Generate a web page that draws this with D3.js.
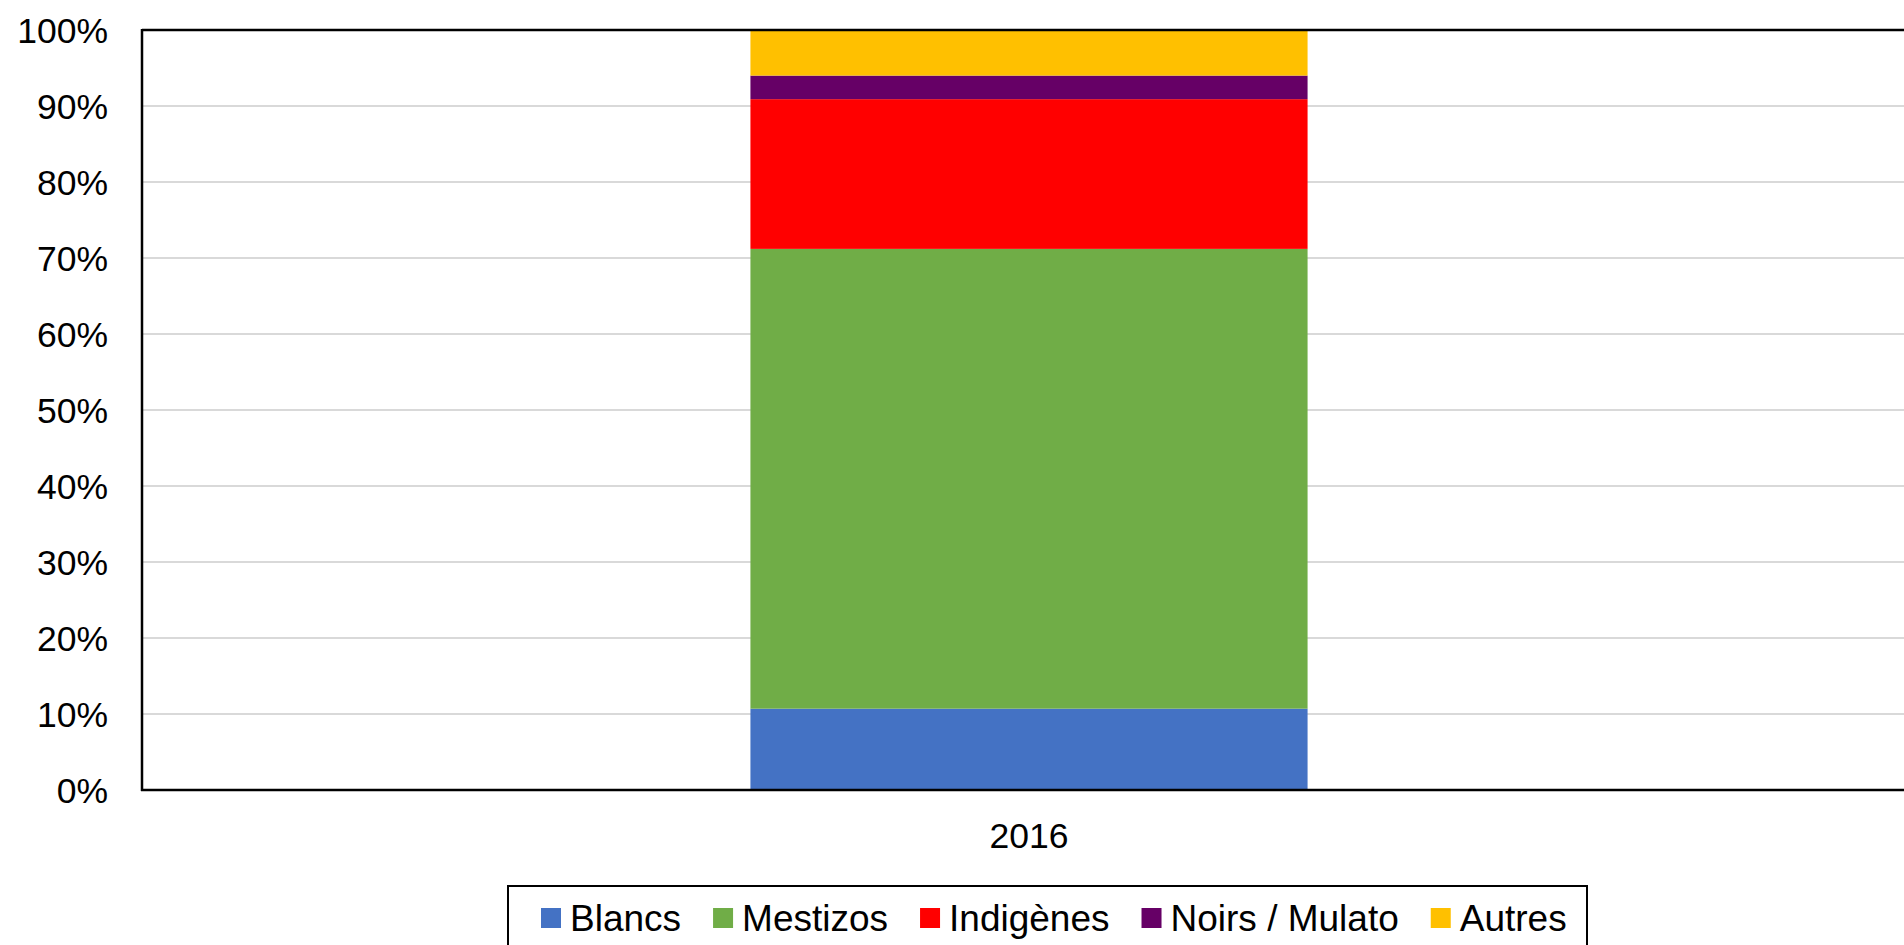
<!DOCTYPE html>
<html>
<head>
<meta charset="utf-8">
<script src="https://d3js.org/d3.v7.min.js"></script>
<style>
  body { margin: 0; background: #fff; }
  svg { display: block; font-family: "Liberation Sans", Arial, sans-serif; }
</style>
</head>
<body>
<div id="chart"></div>
<script>
// data (percent of population, 2016)
var years = ["2016"];
var groups = ["Blancs", "Mestizos", "Indigènes", "Noirs / Mulato", "Autres"];
var shares = [10.7, 60.5, 19.7, 3.1, 6.0];
var colors = ["#4472C4", "#70AD47", "#FF0000", "#660066", "#FFC000"];
var yTicks = [0, 10, 20, 30, 40, 50, 60, 70, 80, 90, 100];

var W = 1904, H = 945;
var margin = {top: 30, left: 142, bottom: 155};
var plotRight = 1916; // plot area runs past the right edge of the picture
var height = H - margin.top - margin.bottom;

var svg = d3.select("#chart").append("svg")
  .attr("width", W).attr("height", H);

var x = d3.scaleBand().domain(years).range([margin.left, plotRight]).padding(0.522);
var y = d3.scaleLinear().domain([0, 100]).range([margin.top + height, margin.top]);

// gridlines
svg.append("g").selectAll("line")
  .data(yTicks.filter(function(d) { return d > 0 && d < 100; }))
  .enter().append("line")
  .attr("x1", margin.left).attr("x2", W)
  .attr("y1", function(d) { return y(d); }).attr("y2", function(d) { return y(d); })
  .attr("stroke", "#d9d9d9").attr("stroke-width", 2);

// stacked bar
var rows = [{year: "2016"}];
groups.forEach(function(g, i) { rows[0][g] = shares[i]; });
var stack = d3.stack().keys(groups)(rows);

svg.append("g").selectAll("rect")
  .data(stack)
  .enter().append("rect")
  .attr("x", function(s) { return x(s[0].data.year); })
  .attr("width", x.bandwidth())
  .attr("y", function(s) { return y(s[0][1]); })
  .attr("height", function(s) { return y(s[0][0]) - y(s[0][1]); })
  .attr("fill", function(s, i) { return colors[i]; });

// frame lines: top, left, bottom
svg.append("line").attr("x1", margin.left).attr("x2", W)
  .attr("y1", y(100)).attr("y2", y(100)).attr("stroke", "#000").attr("stroke-width", 2.5);
svg.append("line").attr("x1", margin.left).attr("x2", margin.left)
  .attr("y1", y(100) - 1).attr("y2", y(0) + 1).attr("stroke", "#000").attr("stroke-width", 2.5);
svg.append("line").attr("x1", margin.left - 1).attr("x2", W)
  .attr("y1", y(0)).attr("y2", y(0)).attr("stroke", "#000").attr("stroke-width", 2.5);

// y tick labels
svg.append("g").selectAll("text")
  .data(yTicks)
  .enter().append("text")
  .attr("x", 108)
  .attr("y", function(d) { return y(d); })
  .attr("dy", "0.36em")
  .attr("text-anchor", "end")
  .style("font-size", "35.5px")
  .text(function(d) { return d + "%"; });

// x label
svg.append("text")
  .attr("x", x("2016") + x.bandwidth() / 2)
  .attr("y", 848)
  .attr("text-anchor", "middle")
  .style("font-size", "35.5px")
  .text("2016");

// legend
var legend = svg.append("g");
legend.append("rect")
  .attr("x", 508).attr("y", 886).attr("width", 1079).attr("height", 80)
  .attr("fill", "#fff").attr("stroke", "#000").attr("stroke-width", 2);

var lx = 541;
groups.forEach(function(g, i) {
  legend.append("rect")
    .attr("x", lx).attr("y", 908).attr("width", 20).attr("height", 20)
    .attr("fill", colors[i]);
  var t = legend.append("text")
    .attr("x", lx + 29).attr("y", 931)
    .style("font-size", "37px")
    .text(g);
  lx += 29 + t.node().getComputedTextLength() + 32;
});
</script>
</body>
</html>
